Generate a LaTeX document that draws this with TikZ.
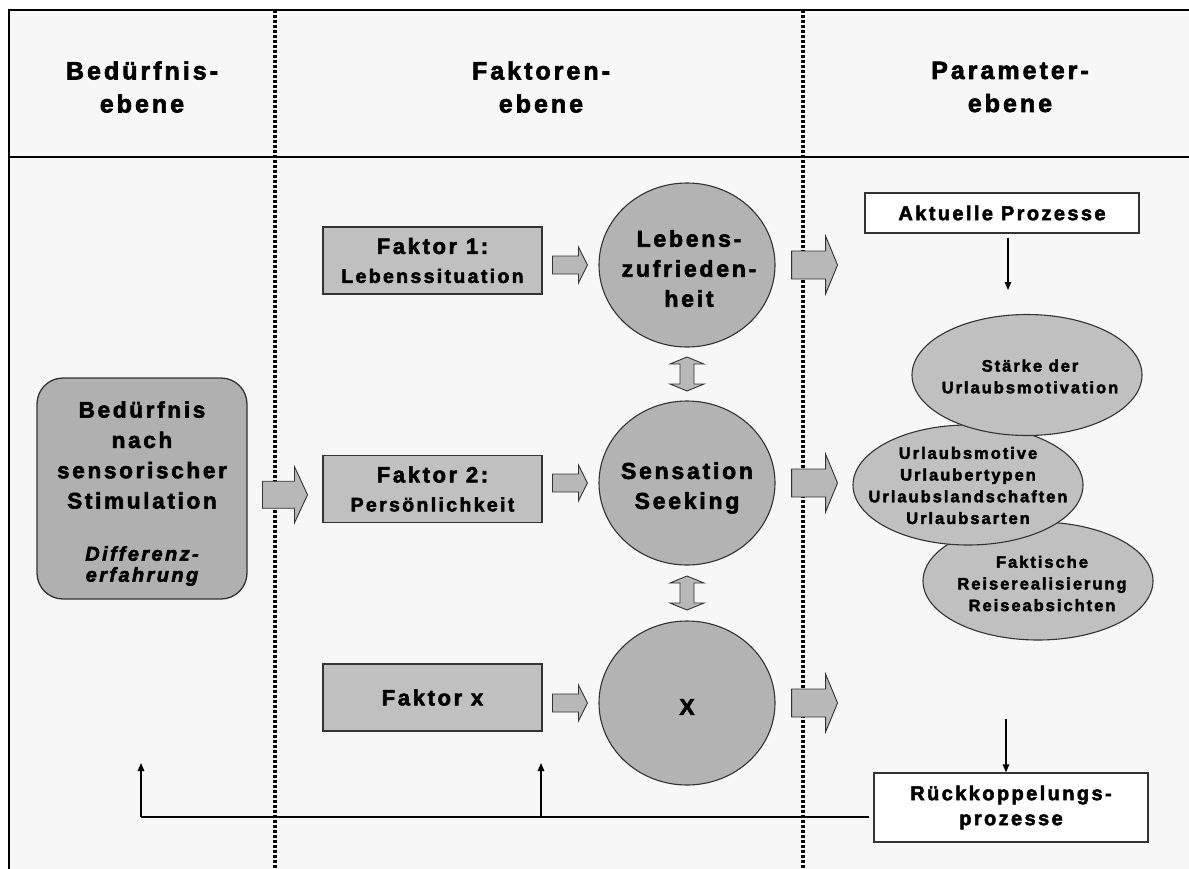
\documentclass[tikz,border=0pt]{standalone}
\usepackage{fontspec}
\setmainfont{Liberation Sans}
\newfontfamily\lsf[LetterSpace=12,BoldFeatures={FakeBold=2.5},BoldItalicFeatures={FakeBold=2.5}]{Liberation Sans}
\usetikzlibrary{shapes.geometric,arrows.meta,calc}
\definecolor{bgc}{HTML}{F7F7F7}
\definecolor{boxc}{HTML}{C0C0C0}
\definecolor{circc}{HTML}{B3B3B3}
\definecolor{lboxc}{HTML}{B0B0B0}
\definecolor{arrc}{HTML}{B8B8B8}
\definecolor{edgec}{HTML}{333333}
% horizontal block arrow: center, half length, shaft half width, head half width, head length
\newcommand{\hblock}[5]{%
  \draw[blockarrow,shift={(#1)}] (-#2,-#3) -- (#2-#5,-#3) -- (#2-#5,-#4) -- (#2,0) -- (#2-#5,#4) -- (#2-#5,#3) -- (-#2,#3) -- cycle;}
% vertical double block arrow: center, half length, shaft half width, head half width, head length
\newcommand{\vdblock}[5]{%
  \draw[blockarrow,shift={(#1)}] (0,-#2) -- (#4,-#2+#5) -- (#3,-#2+#5) -- (#3,#2-#5) -- (#4,#2-#5) -- (0,#2) -- (-#4,#2-#5) -- (-#3,#2-#5) -- (-#3,-#2+#5) -- (-#4,-#2+#5) -- cycle;}
\tikzset{
  frame/.style={line width=1.8pt, draw=black},
  dotline/.style={line width=3.5pt, dash pattern=on 3pt off 2pt},
  hdr/.style={font={\lsf\bfseries\fontsize{25}{33}\selectfont}, align=center, inner sep=0pt},
  lbox/.style={draw=edgec, line width=1.3pt, fill=lboxc, rounded corners=26pt, minimum width=210pt, minimum height=221pt, inner sep=0pt},
  ltxt/.style={font={\lsf\bfseries\fontsize{22.5}{30.3}\selectfont}, align=center, inner sep=0pt},
  litxt/.style={font={\lsf\bfseries\itshape\fontsize{20}{21}\selectfont}, align=center, inner sep=0pt},
  fbox/.style={draw=edgec, line width=1.3pt, fill=boxc, minimum width=219pt, minimum height=67pt, inner sep=0pt, align=center, font={\lsf\bfseries\fontsize{22}{29}\selectfont}},
  circ/.style={ellipse, draw=edgec, line width=1.1pt, fill=circc, minimum width=176pt, minimum height=164pt, inner sep=0pt},
  ctxt/.style={align=center, inner sep=0pt, font={\lsf\bfseries\fontsize{23}{30}\selectfont}},
  oval/.style={ellipse, draw=edgec, line width=1.1pt, fill=boxc, minimum width=230pt, minimum height=120pt, inner sep=0pt},
  otxt/.style={align=center, inner sep=0pt, font={\lsf\bfseries\fontsize{16.5}{21.7}\selectfont}},
  wbox/.style={draw=edgec, line width=1.3pt, fill=white, minimum width=274pt, inner sep=0pt, align=center, font={\lsf\bfseries\fontsize{20}{25}\selectfont}},
  blockarrow/.style={draw=edgec, line width=0.9pt, fill=arrc},
  arr/.style={line width=1.2pt, -{Triangle[length=8pt,width=6.5pt]}},
}
\begin{document}
\begin{tikzpicture}[x=1pt,y=-1pt]
\useasboundingbox (0,0) rectangle (1189,868);
\fill[white] (0,0) rectangle (1189,868);
\fill[bgc] (9,10) rectangle (1200,880);
\draw[frame] (9,880) -- (9,10) -- (1200,10);
\draw[frame] (9,157) -- (1200,157);
\draw[dotline] (275,10) -- (275,868);
\draw[dotline] (803,10) -- (803,868);

% headers
\node[hdr] (h1) at (142,87) {Bedürfnis-\\ebene};
\node[hdr] (h2) at (541,87) {Faktoren-\\ebene};
\node[hdr] (h3) at (1010,87) {Parameter-\\ebene};

% left box
\node[lbox] (need) at (142,488.5) {};
\node[ltxt] (needt) at (142,455) {Bedürfnis\\nach\\sensorischer\\Stimulation};
\node[litxt] (needi) at (142,566) {Differenz-\\erfahrung};

% factor boxes
\node[fbox] (f1) at (432.5,260.5) {Faktor 1:\\{\fontsize{19.5}{29}\selectfont Lebenssituation}};
\node[fbox] (f2) at (432.5,489) {Faktor 2:\\{\fontsize{19.5}{29}\selectfont Persönlichkeit}};
\node[fbox] (fx) at (432.5,697.5) {Faktor x};

% circles
\node[circ] (c1) at (687,265) {};
\node[circ] (c2) at (687,483) {};
\node[circ] (c3) at (687,703) {};
\node[ctxt] (c1t) at (689,268.5) {Lebens-\\zufrieden-\\heit};
\node[ctxt] (c2t) at (687,488) {Sensation\\Seeking};
\node[ctxt] (c3t) at (687,707) {X};

% block arrows
\coordinate (a0) at ($(need.east)!0.5!(f2.west)+(0,6)$);
\hblock{a0}{22.5}{13.5}{28}{13}
\coordinate (a1) at ($(c1.west)+(-28.5,0)$);
\coordinate (a2) at ($(c2.west)+(-28.5,0)$);
\coordinate (a3) at ($(c3.west)+(-28.5,0)$);
\hblock{a1}{17.5}{9}{18}{9}
\hblock{a2}{17.5}{9}{18}{9}
\hblock{a3}{17.5}{9}{18}{9}
\coordinate (b1) at ($(c1.east)+(39,0)$);
\coordinate (b2) at ($(c2.east)+(39,0)$);
\coordinate (b3) at ($(c3.east)+(39,0)$);
\hblock{b1}{23}{14}{29}{12}
\hblock{b2}{23}{14}{29}{12}
\hblock{b3}{23}{14}{29}{12}
\coordinate (d1) at ($(c1.south)!0.5!(c2.north)$);
\coordinate (d2) at ($(c2.south)!0.5!(c3.north)$);
\vdblock{d1}{17}{7}{17}{7}
\vdblock{d2}{17}{7}{17}{7}

% parameter level
\node[oval, minimum height=118pt] (e3) at (1038,581) {};
\node[otxt] (e3t) at (1042,583.5) {Faktische\\Reiserealisierung\\Reiseabsichten};
\node[oval] (e2) at (968,485) {};
\node[otxt] (e2t) at (968,485.5) {Urlaubsmotive\\Urlaubertypen\\Urlaubslandschaften\\Urlaubsarten};
\node[oval, minimum height=121pt] (e1) at (1027,375) {};
\node[otxt] (e1t) at (1030,376.5) {Stärke der\\Urlaubsmotivation};

\node[wbox, minimum height=40pt] (akt) at (1002,213) {Aktuelle Prozesse};
\node[wbox, minimum height=69pt] (rk) at (1011,807.5) {Rückkoppelungs-\\prozesse};

\coordinate (aktend) at (1008,290);
\draw[arr] ($(akt.south)+(6,4)$) -- (aktend);
\coordinate (rktop) at (1006,719);
\draw[arr] (rktop) -- (rktop |- rk.north);

% feedback
\coordinate (fb) at ($(rk.west)+(-4,9.5)$);
\coordinate (up1) at (141,763);
\coordinate (up2) at (541,763);
\draw[line width=1.2pt] (fb) -- (up1 |- fb);
\draw[arr] (up1 |- fb) -- (up1);
\draw[arr] (up2 |- fb) -- (up2);
\end{tikzpicture}
\end{document}
